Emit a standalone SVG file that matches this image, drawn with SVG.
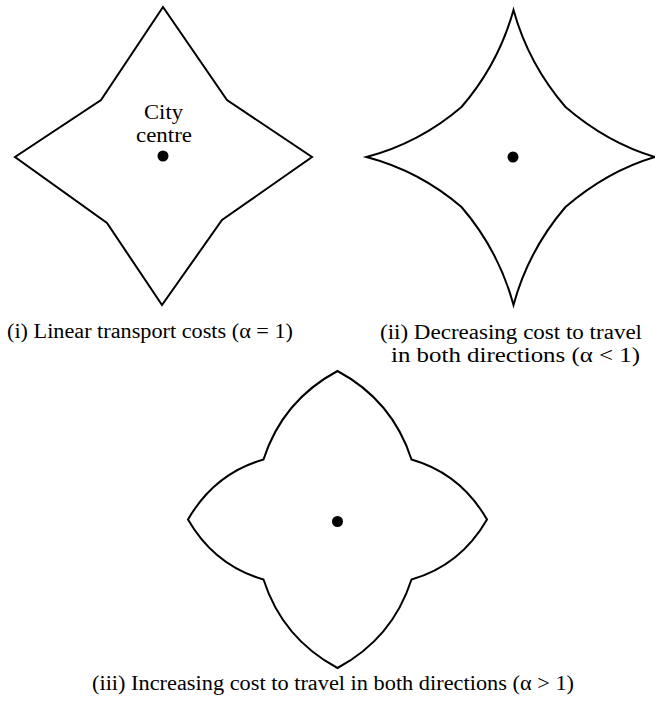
<svg xmlns="http://www.w3.org/2000/svg" width="655" height="703" viewBox="0 0 655 703">
<style>
.shape{fill:none;stroke:#000;stroke-width:2;stroke-linejoin:miter}
.dot{fill:#000}
text{font-family:"Liberation Serif","Times New Roman",serif;font-size:20px;fill:#000}
</style>
<rect width="655" height="703" fill="#fff"/>
<g id="shape-i">
<polygon class="shape" points="163,7 101,100 15,157 107,223 162,305 222,220 312,157 227,100"/>
<circle class="dot" cx="163" cy="156" r="5.5"/>
<text x="144" y="119" textLength="39" lengthAdjust="spacingAndGlyphs">City</text>
<text x="136" y="141.5" textLength="56" lengthAdjust="spacingAndGlyphs">centre</text>
<text x="7" y="338" textLength="286" lengthAdjust="spacingAndGlyphs">(i) Linear transport costs (α = 1)</text>
</g>
<g id="shape-ii">
<path class="shape" transform="translate(513.5,157)" d="M0,-147 Q-15,-93 -52,-50 Q-94,-14 -147,0 Q-94,14 -52,50 Q-15,93 0,148 Q15,93 52,50 Q94,14 141.5,0 Q94,-14 52,-50 Q15,-93 0,-147 Z"/>
<circle class="dot" cx="513" cy="157" r="5.5"/>
<text x="380" y="339" textLength="262" lengthAdjust="spacingAndGlyphs">(ii) Decreasing cost to travel</text>
<text x="391" y="361.5" textLength="249" lengthAdjust="spacingAndGlyphs">in both directions (α &lt; 1)</text>
</g>
<g id="shape-iii">
<path class="shape" transform="translate(337.5,519.5)" d="M0,-148.5 Q-55,-119 -74,-60 Q-123,-46 -149.5,0 Q-123,46 -74,60 Q-55,119 0,148.5 Q55,119 74,60 Q123,46 149.5,0 Q123,-46 74,-60 Q55,-119 0,-148.5 Z"/>
<circle class="dot" cx="337.5" cy="521.5" r="5.5"/>
<text x="92" y="690" textLength="482" lengthAdjust="spacingAndGlyphs">(iii) Increasing cost to travel in both directions (α &gt; 1)</text>
</g>
<g id="connectors"/>
</svg>
